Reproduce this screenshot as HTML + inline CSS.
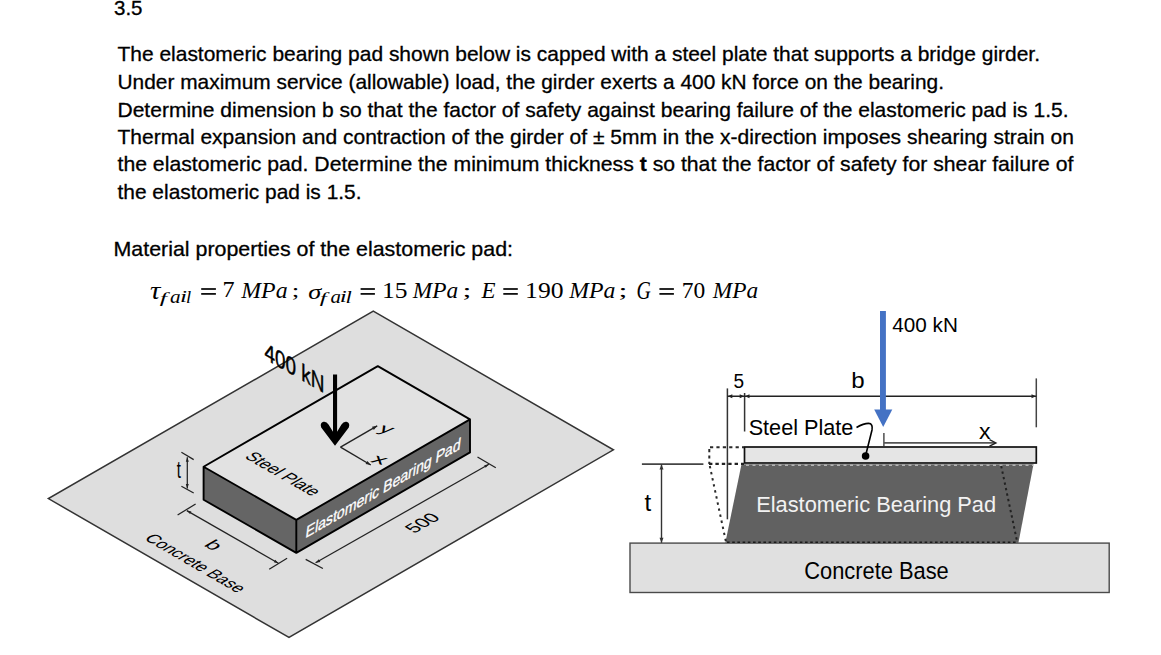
<!DOCTYPE html>
<html><head><meta charset="utf-8"><style>
html,body{margin:0;padding:0;background:#fff;width:1161px;height:655px;overflow:hidden}
svg{display:block}
text{font-family:"Liberation Sans",sans-serif}
.m{font-family:"Liberation Serif",serif;font-style:italic}
.b{stroke:#000;stroke-width:0.3}
.mr{font-family:"Liberation Serif",serif}
</style></head><body>
<svg width="1161" height="655" viewBox="0 0 1161 655">
<text class="b" x="114" y="15.3" font-size="20.6" textLength="28.5" lengthAdjust="spacingAndGlyphs" >3.5</text>
<text class="b" x="117.5" y="61.0" font-size="20.6" textLength="922.5" lengthAdjust="spacingAndGlyphs" >The elastomeric bearing pad shown below is capped with a steel plate that supports a bridge girder.</text>
<text class="b" x="117.5" y="88.6" font-size="20.6" textLength="826.5" lengthAdjust="spacingAndGlyphs" >Under maximum service (allowable) load, the girder exerts a 400 kN force on the bearing.</text>
<text class="b" x="117.5" y="116.6" font-size="20.6" textLength="951.0" lengthAdjust="spacingAndGlyphs" >Determine dimension b so that the factor of safety against bearing failure of the elastomeric pad is 1.5.</text>
<text class="b" x="117.5" y="143.8" font-size="20.6" textLength="956.5" lengthAdjust="spacingAndGlyphs" >Thermal expansion and contraction of the girder of ± 5mm in the x-direction imposes shearing strain on</text>
<text class="b" x="117.5" y="171.4" font-size="20.6" textLength="956.0" lengthAdjust="spacingAndGlyphs" >the elastomeric pad. Determine the minimum thickness <tspan font-weight="bold">t</tspan> so that the factor of safety for shear failure of</text>
<text class="b" x="117.5" y="199.3" font-size="20.6" textLength="244.0" lengthAdjust="spacingAndGlyphs" >the elastomeric pad is 1.5.</text>
<text class="b" x="113.5" y="256" font-size="20.6" textLength="399.5" lengthAdjust="spacingAndGlyphs" >Material properties of the elastomeric pad:</text>
<text transform="matrix(1.3161,0,0,1.1298,150.05,299.0)" x="0" y="0" font-size="22" class="mr" font-style="italic">τ</text>
<text transform="matrix(1.4942,0,0,0.8347,159.8,303.2)" x="0" y="0" font-size="17.5" class="mr" font-style="italic">f</text>
<text transform="matrix(1.2105,0,0,1.0294,170.05,303.25)" x="0" y="0" font-size="17.5" class="mr" font-style="italic">a</text>
<text transform="matrix(1.4505,0,0,0.974,179.9,302.05)" x="0" y="0" font-size="17.5" class="mr" font-style="italic">i</text>
<text transform="matrix(1.0598,0,0,0.9566,186.1,303.0)" x="0" y="0" font-size="17.5" class="mr" font-style="italic">l</text>
<text transform="matrix(1.0995,0,0,1.014,222.5,297.15)" x="0" y="0" font-size="22" class="mr">7</text>
<text transform="matrix(1.0839,0,0,1.0754,241.25,297.6)" x="0" y="0" font-size="22" class="mr" font-style="italic">MPa</text>
<text transform="matrix(1.2405,0,0,0.902,291.8,297.3)" x="0" y="0" font-size="22" class="mr">;</text>
<text transform="matrix(1.2012,0,0,0.9588,308.3,298.5)" x="0" y="0" font-size="22" class="mr" font-style="italic">σ</text>
<text transform="matrix(1.4329,0,0,0.8347,319.7,303.2)" x="0" y="0" font-size="17.5" class="mr" font-style="italic">f</text>
<text transform="matrix(1.1935,0,0,1.0294,330.45,303.25)" x="0" y="0" font-size="17.5" class="mr" font-style="italic">a</text>
<text transform="matrix(1.4505,0,0,0.974,339.8,302.05)" x="0" y="0" font-size="17.5" class="mr" font-style="italic">i</text>
<text transform="matrix(1.2955,0,0,0.9566,345.5,303.0)" x="0" y="0" font-size="17.5" class="mr" font-style="italic">l</text>
<text transform="matrix(1.1609,0,0,1.0622,382.1,297.55)" x="0" y="0" font-size="22" class="mr">15</text>
<text transform="matrix(1.0605,0,0,1.0754,412.8,297.6)" x="0" y="0" font-size="22" class="mr" font-style="italic">MPa</text>
<text transform="matrix(1.4618,0,0,0.902,462.5,297.3)" x="0" y="0" font-size="22" class="mr">;</text>
<text transform="matrix(1.0422,0,0,1.0498,481.55,297.8)" x="0" y="0" font-size="22" class="mr" font-style="italic">E</text>
<text transform="matrix(1.1667,0,0,1.0622,525.05,297.55)" x="0" y="0" font-size="22" class="mr">190</text>
<text transform="matrix(1.0792,0,0,1.0754,569.3,297.6)" x="0" y="0" font-size="22" class="mr" font-style="italic">MPa</text>
<text transform="matrix(1.4618,0,0,0.902,618.6,297.3)" x="0" y="0" font-size="22" class="mr">;</text>
<text transform="matrix(0.8997,0,0,1.0979,636.6,299.0)" x="0" y="0" font-size="22" class="mr" font-style="italic">G</text>
<text transform="matrix(1.0662,0,0,1.0622,681.7,297.55)" x="0" y="0" font-size="22" class="mr">70</text>
<text transform="matrix(1.0615,0,0,1.0754,712.8,297.6)" x="0" y="0" font-size="22" class="mr" font-style="italic">MPa</text>
<rect x="201.2" y="288.1" width="14.7" height="1.8" fill="#111"/><rect x="201.2" y="293.0" width="14.7" height="1.8" fill="#111"/>
<rect x="360.6" y="288.1" width="14.3" height="1.8" fill="#111"/><rect x="360.6" y="293.0" width="14.3" height="1.8" fill="#111"/>
<rect x="503.3" y="288.1" width="14.5" height="1.8" fill="#111"/><rect x="503.3" y="293.0" width="14.5" height="1.8" fill="#111"/>
<rect x="659.4" y="288.1" width="14.5" height="1.8" fill="#111"/><rect x="659.4" y="293.0" width="14.5" height="1.8" fill="#111"/>
<polygon points="373.3,311.2 613.4,449.8 289,637.5 48.4,498.6" fill="#dedede" stroke="#333" stroke-width="1.5" stroke-linejoin="miter"/>
<polygon points="203.6,466.7 377.8,366.1 470.0,419.4 296.3,519.9" fill="#e2e2e2"/>
<polygon points="203.6,466.7 296.3,519.9 296.3,552.9 203.6,499.7" fill="#656565"/>
<polygon points="296.3,519.9 470.0,419.4 470.0,452.4 296.3,552.9" fill="#656565"/>
<path d="M203.6,466.7 L377.8,366.1 L470.0,419.4 L470.0,452.4 L296.3,552.9 L203.6,499.7 Z M203.6,466.7 L296.3,519.9 L470.0,419.4 M296.3,519.9 L296.3,552.9" fill="none" stroke="#000" stroke-width="1.9" stroke-linejoin="round"/>
<line x1="187.3" y1="457.2" x2="187.3" y2="488.6" stroke="#222" stroke-width="1.25"/><polygon points="187.3,457.2 188.8,461.7 185.8,461.7" fill="#222"/><polygon points="187.3,488.6 185.8,484.1 188.8,484.1" fill="#222"/>
<line x1="181.4" y1="452.3" x2="193.7" y2="459.6" stroke="#222" stroke-width="1.25"/>
<line x1="181.4" y1="486.2" x2="193.7" y2="493" stroke="#222" stroke-width="1.25"/>
<line x1="186.8" y1="510.6" x2="278.4" y2="563.2" stroke="#222" stroke-width="1.25"/><polygon points="186.8,510.6 191.4,511.5 190.0,514.1" fill="#222"/><polygon points="278.4,563.2 273.8,562.3 275.2,559.7" fill="#222"/>
<line x1="177.6" y1="515" x2="195.6" y2="504" stroke="#222" stroke-width="1.25"/>
<line x1="269.2" y1="569.2" x2="287.1" y2="558.2" stroke="#222" stroke-width="1.25"/>
<line x1="315.6" y1="562.8" x2="488.9" y2="464.3" stroke="#222" stroke-width="1.25"/><polygon points="315.6,562.8 318.8,559.3 320.3,561.9" fill="#222"/><polygon points="488.9,464.3 485.7,467.8 484.2,465.2" fill="#222"/>
<line x1="305.7" y1="559.4" x2="322.9" y2="568.5" stroke="#222" stroke-width="1.25"/>
<line x1="477.5" y1="457" x2="495.8" y2="467.8" stroke="#222" stroke-width="1.25"/>
<line x1="340.5" y1="447.1" x2="377.2" y2="425.8" stroke="#222" stroke-width="1.4"/><polygon points="377.2,425.8 373.8,429.9 372.0,426.8" fill="#222"/>
<line x1="340.5" y1="447.1" x2="370.8" y2="465" stroke="#222" stroke-width="1.4"/><polygon points="370.8,465.0 365.6,464.0 367.4,460.9" fill="#222"/>
<path d="M335,445.8 L321.2,427.5 Q319.6,422.8 323.5,421.8 Q326.5,421.3 328.5,424.5 L333,431.8 L333,374.4 L337.1,374.4 L337.1,431.8 L341.5,424.5 Q343.5,421.3 346.5,421.8 Q350.4,422.8 348.8,427.5 Z" fill="#000"/>
<text transform="matrix(0.9954,0.5747,0.0000,1.2682,264.4,358.7)" x="0" y="0" font-size="19" fill="#000" stroke="#000" stroke-width="0.35">400 kN</text>
<text transform="matrix(0.9125,0.5269,-1.0047,0.5800,243.7,457.2)" x="0" y="0" font-size="15.5" fill="#000" stroke="#000" stroke-width="0">Steel Plate</text>
<text transform="matrix(0.8867,0.5120,-0.9522,0.5497,143.6,539.1)" x="0" y="0" font-size="16" fill="#000" stroke="#000" stroke-width="0">Concrete Base</text>
<text transform="matrix(1.1821,0.6825,-1.0186,0.5881,202.9,545.3)" x="0" y="0" font-size="16" fill="#000" stroke="#000" stroke-width="0">b</text>
<text transform="matrix(0.9441,-0.5451,0.9365,0.5407,414.3,533.7)" x="0" y="0" font-size="17" fill="#000" stroke="#000" stroke-width="0">500</text>
<text transform="matrix(0.7418,-0.4283,-0.1168,0.8912,305.0,538.5)" x="0" y="0" font-size="19" fill="#fff" stroke="#fff" stroke-width="0.4">Elastomeric Bearing Pad</text>
<text transform="matrix(1.7843,0.4784,-0.8552,0.8552,369.8,461.7)" x="0" y="0" font-size="14" fill="#000" stroke="#000" stroke-width="0">x</text>
<text transform="matrix(1.6854,0.4519,-0.7920,0.7920,377.2,431.1)" x="0" y="0" font-size="14" fill="#000" stroke="#000" stroke-width="0">y</text>
<text transform="matrix(0.7462,0.0000,0.0000,1.2130,176.7,477.5)" x="0" y="0" font-size="20" fill="#000" stroke="#000" stroke-width="0">t</text>
<rect x="630" y="543.1" width="479.2" height="49.4" fill="#e0e0e0" stroke="#4a4a4a" stroke-width="1.4"/>
<polygon points="741.5,464.2 1033.5,464.2 1018.4,543 725.3,543" fill="#616161"/>
<line x1="746" y1="465.2" x2="1033" y2="465.2" stroke="#b4b4b4" stroke-width="1.6" stroke-dasharray="3,3.5"/>
<line x1="727" y1="542.2" x2="1018" y2="542.2" stroke="#1a1a1a" stroke-width="1.6" stroke-dasharray="2.6,2.6"/>
<rect x="744.5" y="447" width="291.8" height="16" fill="#e5e5e5" stroke="#111" stroke-width="1.7"/>
<path d="M710,447.3 L744,447.3 M709.3,449 L709.3,464" fill="none" stroke="#2a2a2a" stroke-width="2" stroke-dasharray="3.2,3.2"/>
<line x1="709" y1="463.9" x2="744" y2="463.9" stroke="#222" stroke-width="2.4" stroke-dasharray="3.4,3"/>
<line x1="709.8" y1="466" x2="726" y2="542" stroke="#2a2a2a" stroke-width="2" stroke-dasharray="2.4,3.8"/>
<line x1="1001.2" y1="466" x2="1017.2" y2="542" stroke="#222" stroke-width="2" stroke-dasharray="2.4,3.2"/>
<line x1="641.9" y1="464.1" x2="703.4" y2="464.1" stroke="#444" stroke-width="1.6"/>
<line x1="661.5" y1="464.4" x2="661.5" y2="542.8" stroke="#333" stroke-width="1.4"/><polygon points="661.5,464.4 663.5,469.4 659.5,469.4" fill="#333"/><polygon points="661.5,542.8 659.5,537.8 663.5,537.8" fill="#333"/>
<line x1="727.4" y1="388.4" x2="727.4" y2="519.3" stroke="#333" stroke-width="1.5"/>
<line x1="744.6" y1="393" x2="744.6" y2="431.5" stroke="#333" stroke-width="1.5"/>
<line x1="1036.3" y1="378.4" x2="1036.3" y2="427.3" stroke="#444" stroke-width="1.5"/>
<line x1="727.5" y1="396.3" x2="1036.3" y2="396.3" stroke="#222" stroke-width="1.5"/>
<polygon points="727.8,396.3 732.3,394.3 732.3,398.3" fill="#222"/>
<polygon points="744.2,396.3 739.7,398.3 739.7,394.3" fill="#222"/>
<polygon points="745.0,396.3 749.5,394.3 749.5,398.3" fill="#222"/>
<polygon points="1036.0,396.3 1031.5,398.3 1031.5,394.3" fill="#222"/>
<path d="M856.5,427.5 C860,425.5 865,423.4 868.5,423.4 C872,423.4 872.6,426.5 872,430 L866,454" fill="none" stroke="#000" stroke-width="1.6"/>
<circle cx="865.6" cy="456" r="3.8" fill="#000"/>
<rect x="880" y="311" width="5.9" height="99" fill="#4472c4"/>
<polygon points="874.2,409.5 892.3,409.5 883.2,427.1" fill="#4472c4"/>
<line x1="883.9" y1="432.9" x2="883.9" y2="446.2" stroke="#333" stroke-width="1.3"/>
<line x1="884" y1="442.9" x2="995" y2="442.9" stroke="#555" stroke-width="1.8"/>
<path d="M989.5,439.6 L996,442.9 L989.5,446.2" fill="none" stroke="#222" stroke-width="1.3"/>
<text transform="matrix(0.9516,0,0,1.0283,733.5,388.2)" x="0" y="0" font-size="20" fill="#000">5</text>
<text transform="matrix(1.2053,0,0,1.122,851.15,387.75)" x="0" y="0" font-size="20" fill="#000">b</text>
<text transform="matrix(1.4486,0,0,1.3392,979.05,438.95)" x="0" y="0" font-size="16" fill="#000">x</text>
<text transform="matrix(1.0934,0,0,1.1044,644.55,510.75)" x="0" y="0" font-size="22" fill="#000">t</text>
<text transform="matrix(1.031,0,0,1.0892,748.65,434.5)" x="0" y="0" font-size="21" fill="#000">Steel Plate</text>
<text transform="matrix(1.0352,0,0,1.0501,892.3,332.25)" x="0" y="0" font-size="20" fill="#000">400 kN</text>
<text transform="matrix(0.9917,0,0,1.0,756.2,512.2)" x="0" y="0" font-size="22" fill="#f2f2f2">Elastomeric Bearing Pad</text>
<text transform="matrix(0.9939,0,0,1.0841,804.2,579.35)" x="0" y="0" font-size="22" fill="#000">Concrete Base</text>
</svg></body></html>
